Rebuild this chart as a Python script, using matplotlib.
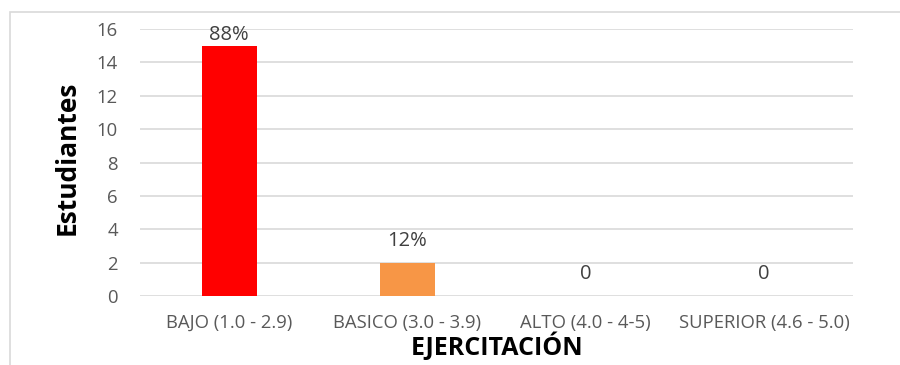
import matplotlib.pyplot as plt
from matplotlib.patches import Rectangle

# Data
categorias = ['BAJO (1.0 - 2.9)', 'BASICO (3.0 - 3.9)', 'ALTO (4.0 - 4-5)', 'SUPERIOR (4.6 - 5.0)']
estudiantes = [15, 2, 0, 0]
etiquetas = ['88%', '12%', '0', '0']
colores = ['#FF0000', '#F79646', '#4F81BD', '#4F81BD']

plt.rcParams['font.family'] = ['Open Sans', 'DejaVu Sans']

fig = plt.figure(figsize=(9, 3.65), dpi=100)
ax = fig.add_axes([0.1556, 0.189, 0.7924, 0.7315])

x = range(len(categorias))
bars = ax.bar(x, estudiantes, width=0.31, color=colores, zorder=3)

# value labels (kept inside plot area like Excel does)
for b, lab in zip(bars, etiquetas):
    y = min(b.get_height() + 1.0, 15.35)
    ax.text(b.get_x() + b.get_width() / 2, y, lab,
            ha='center', va='baseline', fontsize=14.5, color='#404040')

ax.set_xlim(-0.5, 3.5)
ax.set_ylim(0, 16)
ax.set_yticks(range(0, 17, 2))
ax.set_xticks(list(x))
ax.set_xticklabels(categorias, fontsize=13.3, color='#595959')
ax.tick_params(axis='y', labelsize=13.3, labelcolor='#595959', length=0, pad=16)
ax.tick_params(axis='x', length=0, pad=13)
ax.grid(axis='y', color='#D9D9D9', linewidth=1.2, zorder=0)
for s in ax.spines.values():
    s.set_visible(False)

ax.set_ylabel('Estudiantes', fontsize=19, fontweight='bold')
ax.yaxis.set_label_coords(-0.083, 0.519)
ax.set_xlabel('EJERCITACIÓN', fontsize=18, fontweight='bold')
ax.xaxis.set_label_coords(0.5, -0.135)

# chart border
fig.patches.append(Rectangle((10 / 900, -0.05), 1.0, 1 - 12 / 365 + 0.05,
                             transform=fig.transFigure, fill=False,
                             edgecolor='#D9D9D9', linewidth=1.2))

fig.savefig('out.png', dpi=100)
